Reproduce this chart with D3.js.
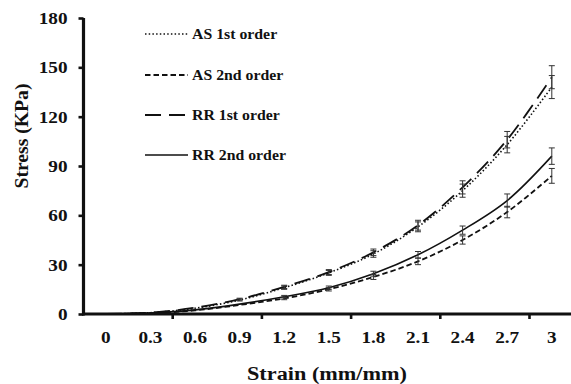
<!DOCTYPE html>
<html>
<head>
<meta charset="utf-8">
<script src="https://cdn.jsdelivr.net/npm/d3@7"></script>
<style>
  html, body { margin: 0; padding: 0; background: #fff; }
  svg { display: block; }
  text { font-family: "Liberation Serif", "Times New Roman", serif; font-weight: bold; fill: #111; }
</style>
</head>
<body>
<svg id="chart" width="571" height="384"></svg>
<script>
// ---- data ----
const strainLabels = ["0", "0.3", "0.6", "0.9", "1.2", "1.5", "1.8", "2.1", "2.4", "2.7", "3"];
const yTicks = [0, 30, 60, 90, 120, 150, 180];
const seriesNames = ["AS 1st order", "AS 2nd order", "RR 1st order", "RR 2nd order"];
const as1st = [0, 0.8, 3.5, 8.5, 16, 25, 36.5, 53, 75, 103, 138];
const as2nd = [0, 0.5, 2.2, 5.5, 9.5, 15, 22.5, 32, 45, 62, 84];
const rr1st = [0, 0.9, 3.8, 9, 16.5, 25.5, 37.5, 54, 77, 106, 144];
const rr2nd = [0, 0.6, 2.5, 6, 10.5, 16, 24.5, 36, 51, 69, 96];
const as1stErr = [0, 0.2, 0.4, 0.6, 1, 1.5, 2, 3, 4, 5, 7];
const as2ndErr = [0, 0.1, 0.3, 0.5, 0.8, 1, 1.5, 2, 2.5, 3.5, 4.5];
const rr1stErr = [0, 0.2, 0.4, 0.6, 1, 1.5, 2, 3, 4, 5, 7];
const rr2ndErr = [0, 0.1, 0.3, 0.5, 0.8, 1, 1.5, 2, 2.5, 4, 5];

const series = [
  { name: seriesNames[0], values: as1st, err: as1stErr, dash: "1.5,2.2", width: 1.6 },
  { name: seriesNames[1], values: as2nd, err: as2ndErr, dash: "5.5,3", width: 1.8 },
  { name: seriesNames[2], values: rr1st, err: rr1stErr, dash: "16,8", width: 1.8 },
  { name: seriesNames[3], values: rr2nd, err: rr2ndErr, dash: null, width: 1.6 }
];

// ---- layout ----
const svg = d3.select("#chart");
const x0 = 83.5, bandW = 44.6;
const x = d3.scaleBand().domain(strainLabels).range([x0, x0 + bandW * strainLabels.length]).padding(0);
const y = d3.scaleLinear().domain([0, 180]).range([314, 18]);
const cx = d => x(d) + x.bandwidth() / 2;

// ---- series lines ----
const line = d3.line()
  .x((v, i) => cx(strainLabels[i]))
  .y(v => y(v))
  .curve(d3.curveCatmullRom.alpha(0.5));

const g = svg.append("g");
series.forEach(s => {
  g.append("path")
    .attr("d", line(s.values))
    .attr("fill", "none")
    .attr("stroke", "#111")
    .attr("stroke-width", s.width)
    .attr("stroke-dasharray", s.dash);
});

// ---- error bars ----
series.forEach(s => {
  s.values.forEach((v, i) => {
    if (s.err[i] <= 0.5) return;
    const px = cx(strainLabels[i]);
    const top = y(v + s.err[i]), bot = y(v - s.err[i]);
    const eg = g.append("g").attr("stroke", "#333").attr("stroke-width", 1);
    eg.append("line").attr("x1", px).attr("x2", px).attr("y1", top).attr("y2", bot);
    eg.append("line").attr("x1", px - 3).attr("x2", px + 3).attr("y1", top).attr("y2", top);
    eg.append("line").attr("x1", px - 3).attr("x2", px + 3).attr("y1", bot).attr("y2", bot);
  });
});

// ---- y axis ----
const yAxis = svg.append("g").attr("transform", `translate(${x0},0)`)
  .call(d3.axisLeft(y).tickValues(yTicks).tickSize(5).tickSizeOuter(0));
yAxis.select(".domain").attr("stroke", "#111").attr("stroke-width", 3.2)
  .attr("d", `M0,${y(180)}V${y(0) + 1.5}`);
yAxis.selectAll(".tick line").attr("stroke", "#111").attr("stroke-width", 2.6);
yAxis.selectAll(".tick text")
  .attr("x", null).attr("dy", null)
  .attr("font-size", 16)
  .attr("font-family", "Liberation Serif, serif")
  .attr("font-weight", "bold")
  .attr("fill", "#111")
  .attr("text-anchor", "end")
  .attr("transform", "translate(-16,5.5) scale(1.2,1)");

// ---- x axis ----
const xAxis = svg.append("g").attr("transform", `translate(0,${y(0)})`)
  .call(d3.axisBottom(x).tickSize(0).tickSizeOuter(0));
xAxis.select(".domain").attr("stroke", "#111").attr("stroke-width", 3.2)
  .attr("d", `M${x0 - 1.5},0H571`);
xAxis.selectAll(".tick text")
  .attr("y", null).attr("dy", null)
  .attr("font-size", 16)
  .attr("font-family", "Liberation Serif, serif")
  .attr("font-weight", "bold")
  .attr("fill", "#111")
  .attr("transform", "translate(0,29) scale(1.2,1)");
// tick marks between every second category
strainLabels.forEach((lab, i) => {
  if (i > 0 && i % 2 === 0) {
    const bx = x(lab);
    xAxis.append("line").attr("x1", bx).attr("x2", bx).attr("y1", 0).attr("y2", 5)
      .attr("stroke", "#111").attr("stroke-width", 2.6);
  }
});

// ---- axis titles ----
svg.append("text")
  .attr("x", 0).attr("y", 0)
  .attr("transform", "translate(28,136) rotate(-90)")
  .attr("text-anchor", "middle")
  .attr("font-size", 18)
  .attr("textLength", 105).attr("lengthAdjust", "spacingAndGlyphs")
  .text("Stress (KPa)");

svg.append("text")
  .attr("x", 327).attr("y", 380)
  .attr("text-anchor", "middle")
  .attr("font-size", 18)
  .attr("textLength", 160).attr("lengthAdjust", "spacingAndGlyphs")
  .text("Strain (mm/mm)");

// ---- legend ----
const legendY = [34, 75, 115, 155];
const lg = svg.append("g");
series.forEach((s, i) => {
  const ly = legendY[i];
  lg.append("line").attr("x1", 145).attr("x2", 188).attr("y1", ly).attr("y2", ly)
    .attr("stroke", "#111").attr("stroke-width", s.width)
    .attr("stroke-dasharray", s.dash);
  lg.append("text")
    .attr("x", 0).attr("y", 0)
    .attr("transform", `translate(192,${ly + 5}) scale(1.13,1)`)
    .attr("font-size", 14)
    .text(s.name);
});
</script>
</body>
</html>
